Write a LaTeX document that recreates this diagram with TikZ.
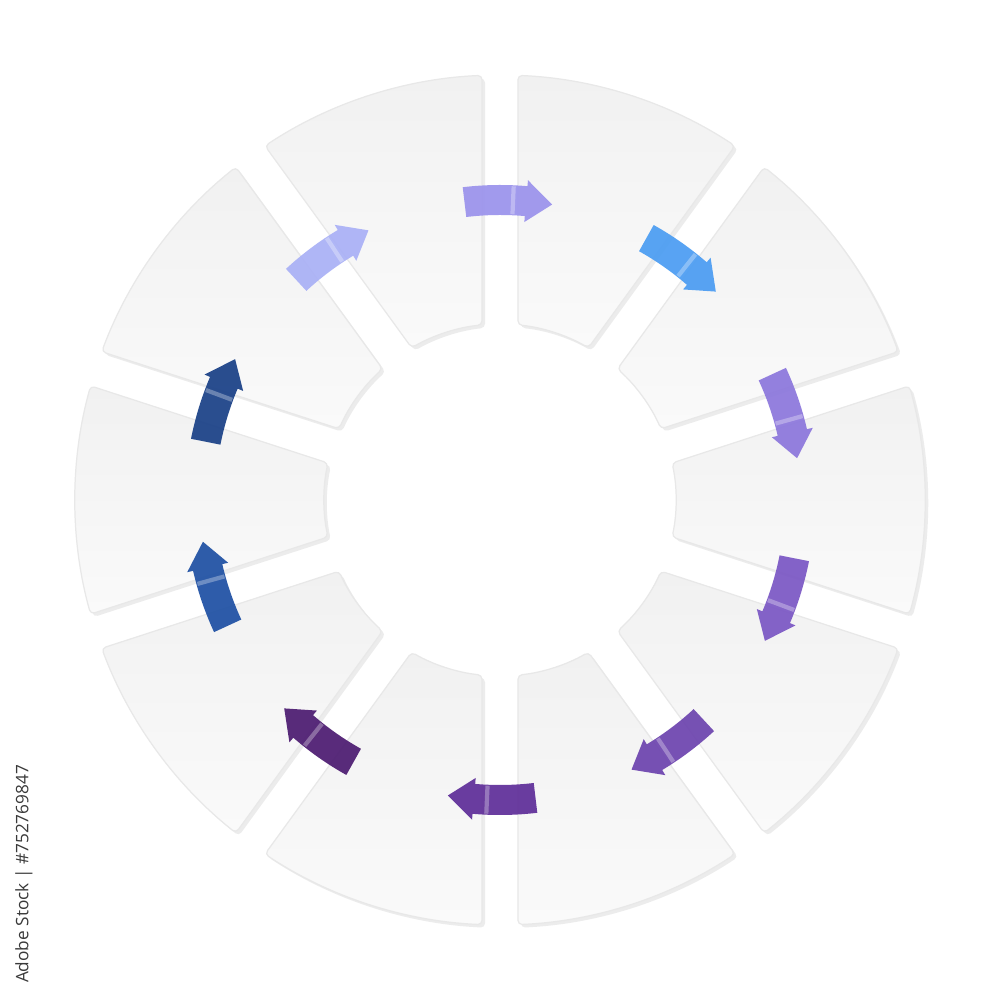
\documentclass[tikz,border=0pt]{standalone}
\usepackage{fontspec}
\setsansfont{Open Sans}
\usetikzlibrary{shadows,calc}
\definecolor{segfill}{HTML}{FAFAFA}
\definecolor{segtop}{HTML}{F1F1F1}
\definecolor{segedge}{HTML}{E8E8E8}
\definecolor{ca}{HTML}{9A92EC}
\definecolor{cb}{HTML}{4A9CF2}
\definecolor{cc}{HTML}{8B76DC}
\definecolor{cd}{HTML}{7A56C4}
\definecolor{ce}{HTML}{6C43AE}
\definecolor{cf}{HTML}{5E2D98}
\definecolor{cg}{HTML}{4B1A70}
\definecolor{ch}{HTML}{1D4FA3}
\definecolor{ci}{HTML}{183F86}
\definecolor{cj}{HTML}{A9B0F6}
\definecolor{wmtext}{HTML}{3A3A3A}
\tikzset{
  seg/.style={top color=segtop, bottom color=segfill, draw=segedge, line width=0.35pt,
    rounded corners=1.2pt,
    drop shadow={shadow xshift=0.03, shadow yshift=-0.03, opacity=0.12, fill=black!60}},
  arr/.style={fill=#1, opacity=0.92},
  shine/.style={draw=white, opacity=0.3, line width=1.2pt},
  wm/.style={rotate=90, font=\sffamily\fontsize{4.9}{6}\selectfont, text=wmtext}
}
\begin{document}
\begin{tikzpicture}
\useasboundingbox (-5,-5) rectangle (5,5);
\fill[white] (-5,-5) rectangle (5,5);
\def\Ro{4.25}
\def\Ri{1.76}
\def\g{0.18}
\pgfmathsetmacro\ao{asin(\g/\Ro)}
\pgfmathsetmacro\ai{asin(\g/\Ri)}
% ring segments
\foreach \k in {0,...,9} {
  \pgfmathsetmacro\tA{90-36*\k}
  \pgfmathsetmacro\tB{\tA-36}
  \path[seg] (\tA-\ao:\Ro) arc[start angle=\tA-\ao, end angle=\tB+\ao, radius=\Ro]
    -- (\tB+\ai:\Ri) arc[start angle=\tB+\ai, end angle=\tA-\ai, radius=\Ri] -- cycle;
}
% arrows across the gaps
\foreach \k/\c in {0/ca,1/cb,2/cc,3/cd,4/ce,5/cf,6/cg,7/ch,8/ci,9/cj} {
  \pgfmathsetmacro\t{90-36*\k}
  \path[arr=\c] (\t+6.8:2.85) arc[start angle=\t+6.8, end angle=\t-5, radius=2.85]
    -- (\t-5:2.79) -- (\t-10:3.0) -- (\t-5:3.21) -- (\t-5:3.15)
    arc[start angle=\t-5, end angle=\t+6.8, radius=3.15] -- cycle;
  \draw[shine] (\t-2.5:2.86) -- (\t-2.5:3.14);
}
\node[wm] (stockid) at (-4.76,-3.74) {Adobe Stock | \#752769847};
\end{tikzpicture}
\end{document}
